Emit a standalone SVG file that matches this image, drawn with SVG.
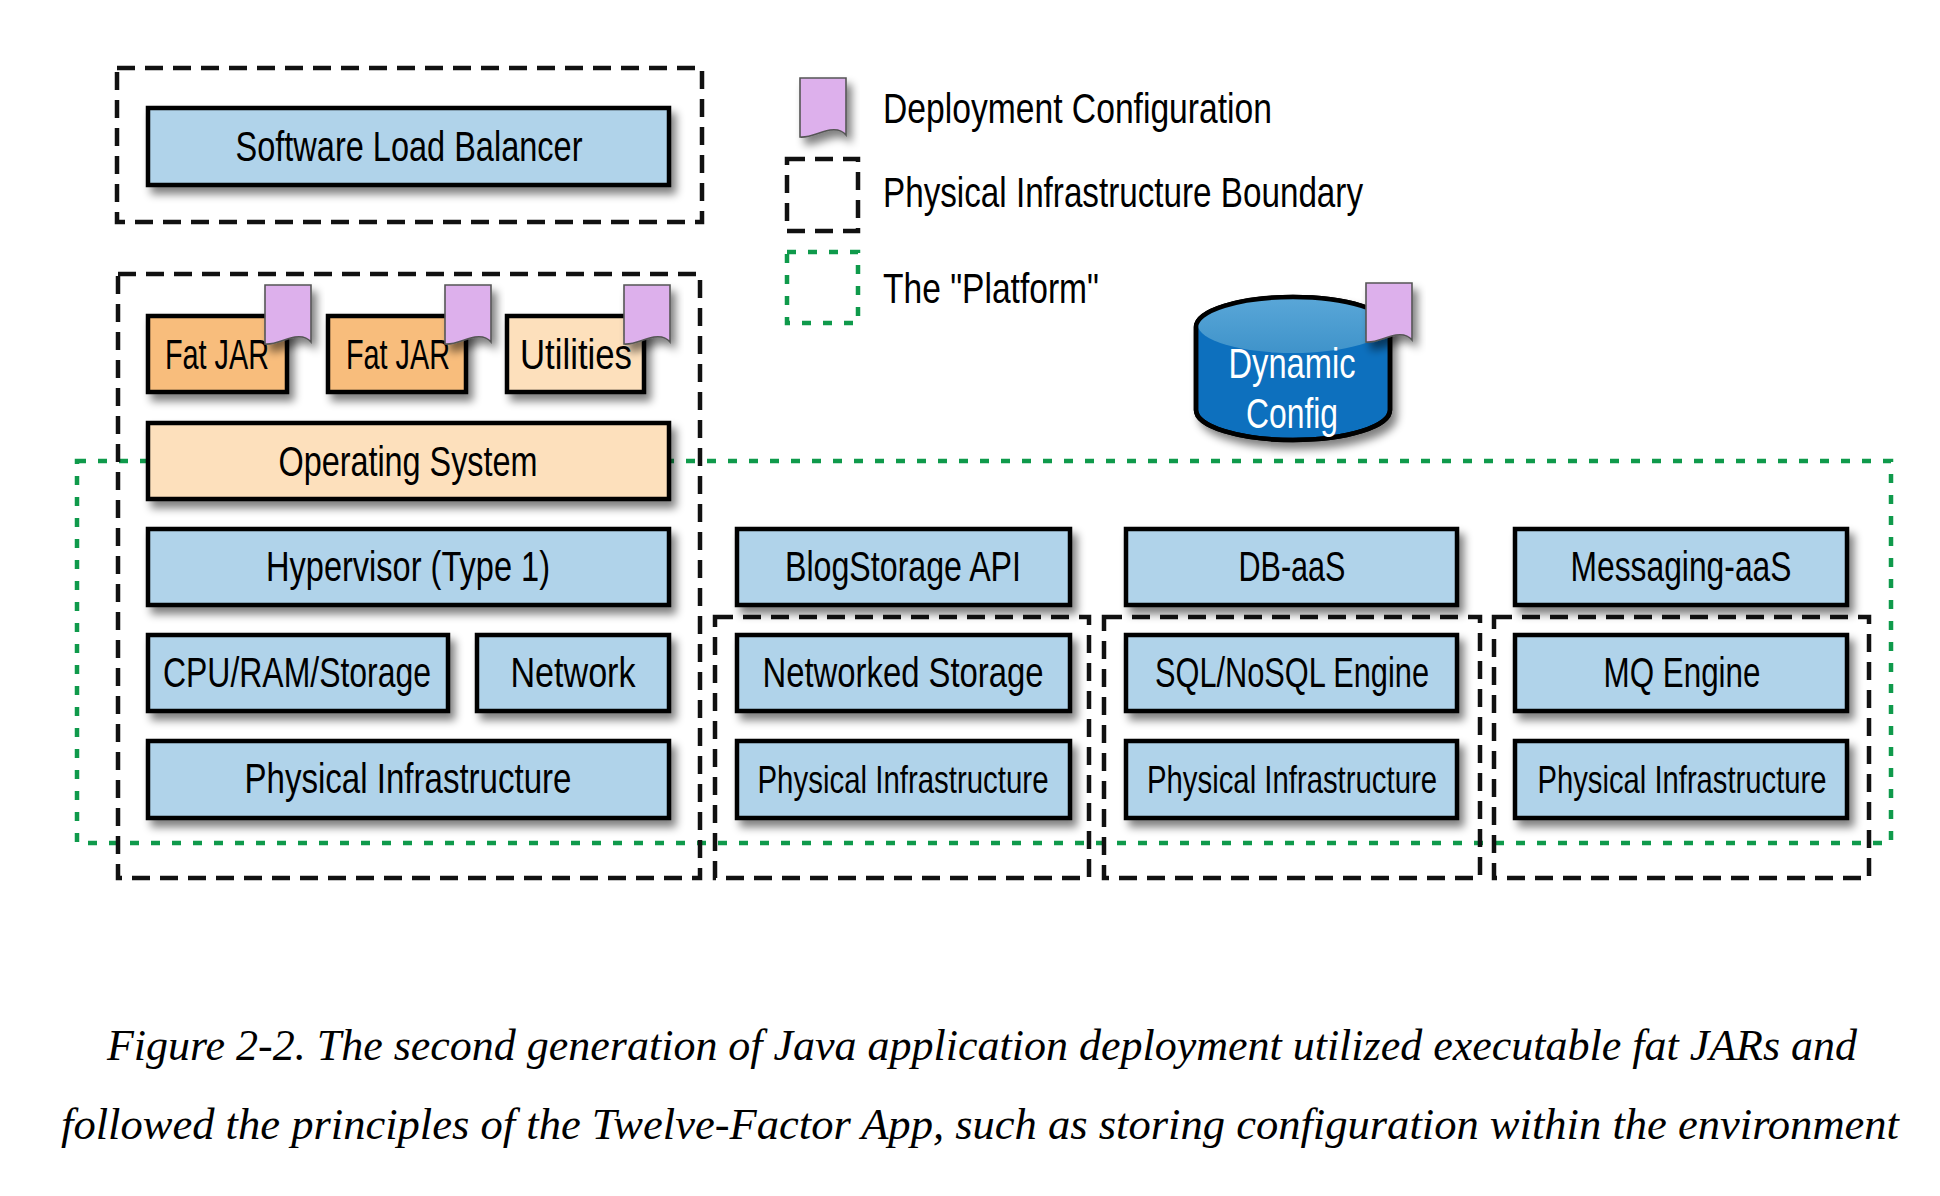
<svg xmlns="http://www.w3.org/2000/svg" xmlns:xlink="http://www.w3.org/1999/xlink" width="1940" height="1196" viewBox="0 0 1940 1196">
<style>
.box{stroke:#000;stroke-width:4.5;filter:url(#sh)}
.blue{fill:#b0d3ea}
.orange{fill:#f8bd7b}
.light{fill:#fde0bc}
.lbl{font-family:"Liberation Sans",Arial,sans-serif;font-size:43px;fill:#000;text-anchor:middle}
.sm{font-size:39px}
.leg{font-family:"Liberation Sans",Arial,sans-serif;font-size:43px;fill:#000}
.pib{fill:none;stroke:#111;stroke-width:4.5;stroke-dasharray:18 10}
.plat{fill:none;stroke:#0f9a4b;stroke-width:4.5;stroke-dasharray:9 12}
.flag{fill:#ddb0ec;stroke:#555;stroke-width:1.6;filter:url(#sh)}
.cap{font-family:"Liberation Serif","Times New Roman",serif;font-style:italic;font-size:44px;fill:#000}
</style>
<defs>
<filter id="sh" x="-20%" y="-20%" width="150%" height="160%">
<feGaussianBlur in="SourceAlpha" stdDeviation="4"/>
<feOffset dx="5" dy="7" result="b"/>
<feComponentTransfer><feFuncA type="linear" slope="0.5"/></feComponentTransfer>
<feMerge><feMergeNode/><feMergeNode in="SourceGraphic"/></feMerge>
</filter>
<linearGradient id="topg" x1="0" y1="0" x2="0" y2="1">
<stop offset="0" stop-color="#5aa7d8"/>
<stop offset="1" stop-color="#3f93ca"/>
</linearGradient>
<path id="flagp" d="M0,0 H46 V57 C42,52 37,51 30,52 C19,54 10,60 0,59 Z"/>
</defs>
<rect width="1940" height="1196" fill="#fff"/>

<g id="boundaries">
<rect class="plat" x="77" y="461" width="1814" height="382"/>
<rect class="pib" x="117" y="68" width="585" height="154"/>
<rect class="pib" x="118" y="274" width="582" height="604"/>
<rect class="pib" x="715" y="617" width="374" height="261"/>
<rect class="pib" x="1104" y="617" width="376" height="261"/>
<rect class="pib" x="1494" y="617" width="375" height="261"/>
</g>

<g id="connectors"></g>

<g id="legend">
<use xlink:href="#flagp" class="flag" transform="translate(800,78)"/>
<rect class="pib" x="787" y="159" width="71" height="72" stroke-dasharray="16 12"/>
<rect class="plat" x="787" y="252" width="71" height="71"/>
<text class="leg" x="883" y="123" textLength="389" lengthAdjust="spacingAndGlyphs">Deployment Configuration</text>
<text class="leg" x="883" y="207" textLength="480" lengthAdjust="spacingAndGlyphs">Physical Infrastructure Boundary</text>
<text class="leg" x="883" y="303" textLength="216" lengthAdjust="spacingAndGlyphs">The "Platform"</text>
</g>

<g id="slb">
<rect class="box blue" x="148" y="108" width="521" height="77"/>
<text class="lbl" x="409" y="161" textLength="347" lengthAdjust="spacingAndGlyphs">Software Load Balancer</text>
</g>

<g id="fatjar1">
<rect class="box orange" x="148" y="316" width="139" height="76"/>
<text class="lbl" x="217" y="369" textLength="104" lengthAdjust="spacingAndGlyphs">Fat JAR</text>
<use xlink:href="#flagp" class="flag" transform="translate(265,285)"/>
</g>

<g id="fatjar2">
<rect class="box orange" x="328" y="316" width="138" height="76"/>
<text class="lbl" x="398" y="369" textLength="104" lengthAdjust="spacingAndGlyphs">Fat JAR</text>
<use xlink:href="#flagp" class="flag" transform="translate(445,285)"/>
</g>

<g id="utilities">
<rect class="box light" x="507" y="316" width="137" height="76"/>
<text class="lbl" x="576" y="369" textLength="112" lengthAdjust="spacingAndGlyphs">Utilities</text>
<use xlink:href="#flagp" class="flag" transform="translate(624,285)"/>
</g>

<g id="os">
<rect class="box light" x="148" y="423" width="521" height="76"/>
<text class="lbl" x="408" y="476" textLength="259" lengthAdjust="spacingAndGlyphs">Operating System</text>
</g>

<g id="hypervisor">
<rect class="box blue" x="148" y="529" width="521" height="76"/>
<text class="lbl" x="408" y="581" textLength="284" lengthAdjust="spacingAndGlyphs">Hypervisor (Type 1)</text>
</g>

<g id="cpu">
<rect class="box blue" x="148" y="635" width="300" height="76"/>
<text class="lbl" x="297" y="687" textLength="268" lengthAdjust="spacingAndGlyphs">CPU/RAM/Storage</text>
</g>

<g id="network">
<rect class="box blue" x="477" y="635" width="192" height="76"/>
<text class="lbl" x="573" y="687" textLength="125" lengthAdjust="spacingAndGlyphs">Network</text>
</g>

<g id="phys-main">
<rect class="box blue" x="148" y="741" width="521" height="77"/>
<text class="lbl" x="408" y="793" textLength="327" lengthAdjust="spacingAndGlyphs">Physical Infrastructure</text>
</g>

<g id="blogstorage">
<rect class="box blue" x="737" y="529" width="333" height="76"/>
<text class="lbl" x="903" y="581" textLength="236" lengthAdjust="spacingAndGlyphs">BlogStorage API</text>
</g>

<g id="netstorage">
<rect class="box blue" x="737" y="635" width="333" height="76"/>
<text class="lbl" x="903" y="687" textLength="281" lengthAdjust="spacingAndGlyphs">Networked Storage</text>
</g>

<g id="phys-blog">
<rect class="box blue" x="737" y="741" width="333" height="77"/>
<text class="lbl sm" x="903" y="793" textLength="291" lengthAdjust="spacingAndGlyphs">Physical Infrastructure</text>
</g>

<g id="dbaas">
<rect class="box blue" x="1126" y="529" width="331" height="76"/>
<text class="lbl" x="1292" y="581" textLength="107" lengthAdjust="spacingAndGlyphs">DB-aaS</text>
</g>

<g id="sqlengine">
<rect class="box blue" x="1126" y="635" width="331" height="76"/>
<text class="lbl" x="1292" y="687" textLength="274" lengthAdjust="spacingAndGlyphs">SQL/NoSQL Engine</text>
</g>

<g id="phys-db">
<rect class="box blue" x="1126" y="741" width="331" height="77"/>
<text class="lbl sm" x="1292" y="793" textLength="290" lengthAdjust="spacingAndGlyphs">Physical Infrastructure</text>
</g>

<g id="messaging">
<rect class="box blue" x="1515" y="529" width="332" height="76"/>
<text class="lbl" x="1681" y="581" textLength="221" lengthAdjust="spacingAndGlyphs">Messaging-aaS</text>
</g>

<g id="mqengine">
<rect class="box blue" x="1515" y="635" width="332" height="76"/>
<text class="lbl" x="1682" y="687" textLength="157" lengthAdjust="spacingAndGlyphs">MQ Engine</text>
</g>

<g id="phys-mq">
<rect class="box blue" x="1515" y="741" width="332" height="77"/>
<text class="lbl sm" x="1682" y="793" textLength="289" lengthAdjust="spacingAndGlyphs">Physical Infrastructure</text>
</g>

<g id="dynamic-config">
<path d="M1196,327 A97,30 0 0 1 1390,327 V410 A97,30 0 0 1 1196,410 Z" fill="#0b6fbe" stroke="#000" stroke-width="4.5" filter="url(#sh)"/>
<ellipse cx="1293" cy="325" rx="95" ry="28" fill="url(#topg)"/>
<path d="M1196,327 A97,30 0 0 1 1390,327 V410 A97,30 0 0 1 1196,410 Z" fill="none" stroke="#000" stroke-width="4.5"/>
<text class="lbl" x="1292" y="378" style="fill:#fff" textLength="127" lengthAdjust="spacingAndGlyphs">Dynamic</text>
<text class="lbl" x="1292" y="428" style="fill:#fff" textLength="92" lengthAdjust="spacingAndGlyphs">Config</text>
<use xlink:href="#flagp" class="flag" transform="translate(1366,283)"/>
</g>

<g id="caption">
<text class="cap" x="107" y="1060" textLength="1750" lengthAdjust="spacingAndGlyphs">Figure 2-2. The second generation of Java application deployment utilized executable fat JARs and</text>
<text class="cap" x="61" y="1139" textLength="1838" lengthAdjust="spacingAndGlyphs">followed the principles of the Twelve-Factor App, such as storing configuration within the environment</text>
</g>
</svg>
